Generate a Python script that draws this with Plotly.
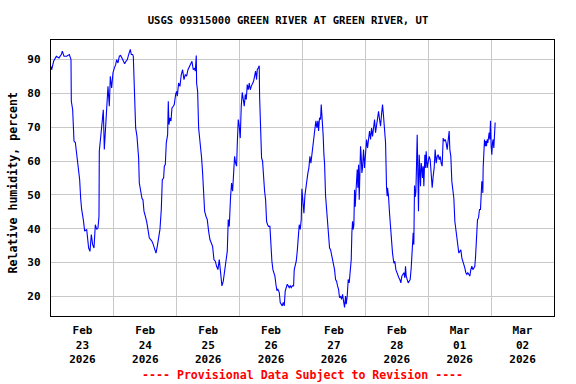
import pandas as pd
import plotly.graph_objects as go

# Hours since 2026-02-23 00:00 (local) and relative humidity (percent)
hours = [
    0.0, 0.25, 1.0, 2.04, 3.05, 3.94, 4.33, 4.96, 5.98, 7.0, 7.63, 7.76, 8.27, 8.78, 9.29, 9.8,
    10.18, 10.56, 10.94, 11.32, 11.7, 12.34, 12.85, 13.61, 14.37, 14.88, 15.39, 15.9, 16.41,
    16.92, 17.43, 17.93, 18.32, 18.44, 18.95, 19.46, 19.97, 20.35, 20.73, 21.24, 21.75, 22.26,
    22.64, 23.15, 23.66, 24.17, 24.68, 25.06, 25.57, 26.08, 26.58, 27.09, 27.6, 28.11, 28.62,
    29.13, 29.64, 30.27, 30.65, 31.16, 31.42, 31.93, 32.31, 32.82, 33.2, 33.45, 33.71, 34.22,
    34.72, 35.11, 35.49, 35.99, 36.5, 37.01, 37.52, 38.03, 38.54, 39.05, 39.56, 40.07, 40.57,
    41.08, 41.59, 42.1, 42.48, 42.99, 43.25, 43.63, 44.01, 44.52, 44.77, 45.03, 45.41, 45.79,
    46.17, 46.68, 47.06, 47.57, 47.95, 48.21, 48.71, 49.22, 49.73, 50.24, 50.75, 51.26, 51.77,
    52.28, 52.78, 53.29, 53.8, 54.31, 54.82, 55.07, 55.46, 55.58, 55.97, 56.35, 56.73, 57.11,
    57.49, 57.87, 58.25, 58.64, 59.15, 59.65, 60.16, 60.67, 61.18, 61.69, 62.2, 62.71, 63.22,
    63.72, 64.23, 64.74, 65.25, 65.76, 66.26, 66.77, 67.28, 67.66, 68.04, 68.55, 68.93, 69.32,
    69.7, 70.08, 70.46, 70.84, 71.1, 71.48, 71.86, 72.24, 72.62, 73.0, 73.39, 73.77, 74.15,
    74.53, 74.91, 75.29, 75.68, 76.06, 76.44, 76.95, 77.33, 77.71, 78.09, 78.47, 78.73, 79.11,
    79.49, 79.62, 80.0, 80.38, 80.76, 81.15, 81.53, 81.91, 82.29, 82.67, 83.05, 83.56, 83.94,
    84.32, 84.71, 85.09, 85.47, 85.85, 86.23, 86.61, 87.12, 87.5, 87.89, 88.27, 88.65, 89.03,
    89.41, 89.79, 90.18, 90.56, 90.94, 91.32, 91.7, 92.08, 92.59, 92.85, 93.23, 93.61, 93.99,
    94.37, 94.75, 95.14, 95.52, 95.77, 96.15, 96.54, 96.92, 97.3, 97.68, 98.06, 98.44, 98.83,
    99.21, 99.59, 99.97, 100.35, 100.73, 101.11, 101.5, 101.88, 102.13, 102.51, 102.89, 103.15,
    103.53, 103.91, 104.17, 104.42, 104.8, 105.18, 105.56, 105.95, 106.33, 106.71, 107.09,
    107.47, 107.85, 108.24, 108.62, 109.0, 109.38, 109.76, 110.14, 110.53, 110.91, 111.29,
    111.67, 112.05, 112.43, 112.69, 113.07, 113.45, 113.83, 114.21, 114.6, 114.85, 115.1,
    115.36, 115.61, 115.87, 116.12, 116.38, 116.63, 116.89, 117.14, 117.39, 117.65, 117.9,
    118.16, 118.41, 118.67, 118.92, 119.3, 119.68, 120.07, 120.45, 120.83, 121.21, 121.59,
    121.97, 122.36, 122.74, 123.12, 123.5, 123.88, 124.26, 124.65, 125.03, 125.41, 125.79,
    126.17, 126.55, 126.93, 127.32, 127.7, 128.08, 128.33, 128.46, 128.84, 129.22, 129.6,
    129.98, 130.36, 130.87, 131.25, 131.64, 132.02, 132.4, 132.78, 133.16, 133.54, 133.93,
    134.31, 134.69, 135.07, 135.32, 135.58, 135.96, 136.34, 136.72, 137.1, 137.49, 137.87,
    138.25, 138.5, 138.76, 139.01, 139.27, 139.52, 139.78, 140.03, 140.28, 140.54, 140.79,
    141.05, 141.3, 141.56, 141.81, 142.07, 142.32, 142.7, 142.96, 143.21, 143.59, 143.97,
    144.35, 144.74, 145.12, 145.5, 145.88, 146.26, 146.64, 147.03, 147.41, 147.79, 148.17,
    148.55, 148.93, 149.31, 149.7, 150.08, 150.46, 150.84, 151.22, 151.6, 151.99, 152.24,
    152.62, 153.0, 153.39, 153.77, 154.15, 154.53, 154.91, 155.29, 155.67, 156.06, 156.44,
    156.82, 157.2, 157.58, 157.96, 158.35, 158.73, 159.11, 159.49, 159.87, 160.25, 160.64,
    161.02, 161.4, 161.78, 162.03, 162.29, 162.54, 162.8, 163.18, 163.56, 163.94, 164.2,
    164.45, 164.71, 164.83, 164.96, 165.21, 165.47, 165.72, 165.98, 166.23, 166.49, 166.74,
    166.99, 167.25, 167.5, 167.76, 168.01, 168.27, 168.52, 168.78, 169.03, 169.29, 169.54,
]
rh = [
    88, 87, 89.5, 91, 90.5, 91.5, 92.5, 91, 91, 91.5, 90, 77.7, 75.2, 65.9, 65.5, 62.4,
    60, 56.5, 54.5, 49, 45.7, 42.7, 39.3, 39.8, 34.3, 33.3, 38.3, 35.3, 34.3,
    41.2, 39.8, 40.2, 43.7, 62.9, 67.3, 69.3, 75.2, 63.4, 67.8, 74.2, 82.1, 76.2,
    85.1, 81.6, 86.1, 87.5, 88.5, 90, 89, 91, 91.2, 90.5, 89.5, 88.8, 89.5,
    90, 91.5, 93, 91.5, 91.5, 91, 78.2, 69.8, 67.3, 63.4, 60.9, 53.5, 50.6,
    49, 48.5, 45.2, 43.7, 42.2, 39.8, 37.3, 36.8, 36.3, 35.3, 34.3, 32.8, 34.8,
    36.8, 39.8, 45.7, 54.5, 55, 58.5, 59, 65.4, 67.8, 77.7, 70.8, 72.8, 71.8,
    75.7, 76.2, 76.7, 79.7, 80.6, 79.2, 83.1, 82.1, 85.6, 87, 84.1, 85.6, 85.1,
    87, 88, 88.5, 89.5, 87, 87.5, 86.6, 91.2, 83.1, 80.6, 69.8, 67.3, 63.4,
    60.9, 56.5, 52.1, 45.2, 43.7, 42.7, 39.3, 36.8, 35.8, 34.8, 30.9, 30.4, 28.9,
    27.9, 30.9, 27, 23.1, 24.5, 27.9, 30.4, 33.3, 42.7, 40.7, 49.5, 53.5, 51.1,
    58, 61.4, 59.4, 58.5, 64.9, 72.3, 70.3, 66.8, 76.2, 80.3, 78.2, 76.2, 79.7,
    78.2, 82.6, 81.1, 83.1, 81.1, 82.1, 83.1, 83.6, 85.1, 86.6, 84.1, 87, 87.5,
    88.2, 79.2, 70.5, 60.9, 60, 53.5, 51.1, 48.6, 42.2, 41.2, 40.7, 40.7, 33.3,
    30.4, 27.9, 27, 26, 23.6, 21.7, 22.1, 21.2, 18.2, 17.7, 17.2, 18.2, 17.2,
    21.6, 22.6, 23.6, 23.1, 22.6, 23.1, 22.6, 23.1, 23.1, 27.9, 29.4, 30.4, 33.3,
    36.3, 41.2, 39.8, 42.7, 51.8, 46.5, 44.6, 49.8, 52.3, 55, 56.5, 58, 61.4,
    59.4, 62.4, 65.4, 66.4, 69.5, 71.9, 69.8, 71.9, 68.9, 72.8, 72.3, 76.7,
    72.8, 67.3, 61.9, 59.4, 49.8, 45.7, 39.8, 36.8, 34.3, 33.8, 32.3,
    31.4, 28.9, 27.9, 25, 24.5, 23.1, 22.1, 19.6, 20.1, 19.1, 20.6,
    18.6, 16.7, 20.1, 17.7, 20.1, 25, 24, 28.9, 30.9, 38.8, 42.2,
    39.8, 41.2, 51.5, 46.5, 50.6, 55, 57.5, 52.1, 58.9, 48.6, 63.4,
    64.4, 61.4, 56.5, 58, 63.4, 58, 63.4, 66.4, 63.9, 67.8, 68.9,
    66.4, 69.8, 67.3, 70.3, 72.3, 68.4, 70.8, 72.8, 74.7, 72.3, 70.3,
    73.8, 76.7, 73.3, 70.3, 65.4, 52.1, 49.6, 52.1, 49.6, 44.6, 40.2,
    37.3, 32.8, 29.8, 30.4, 27.9, 27, 26, 25.5, 25, 24, 26,
    26.5, 27, 25.5, 28.9, 26, 25, 24, 24.5, 25, 28.4, 32.8,
    38.8, 35.3, 52.8, 49.4, 50.9, 58.5, 67.8, 56.5, 45.2, 61.9, 55.5,
    52.6, 59.4, 58, 55, 58.5, 52.6, 61.9, 58, 62.9, 58, 59.4,
    61.4, 60.4, 55.5, 52.1, 55.5, 58, 63.4, 59.4, 61.4, 61.9, 60.4,
    61.4, 59.4, 58.5, 66.8, 65.9, 66.4, 65.4, 63.4, 65.9, 68.9, 63.4,
    61.4, 54, 51.1, 49, 42.2, 40.2, 37.3, 35.3, 32.8, 33.3, 33.8,
    31.4, 30.4, 29.9, 28.4, 27, 26.5, 27, 26.5, 26, 27.9, 28.9,
    27.9, 28.4, 28.9, 31.4, 35.8, 37.7, 42.7, 43.2, 45.7, 45.7, 53.5,
    54, 52.6, 50.6, 58, 61.9, 66.4, 64.4, 65.9, 64.4, 66.4, 65.4,
    66.4, 68.4, 66.4, 71.9, 64.4, 61.9, 65.4, 66.4, 63.9, 67.8, 71.4,
]

start = pd.Timestamp("2026-02-23 00:00")
times = start + pd.to_timedelta(hours, unit="h")

title_text = "USGS 09315000 GREEN RIVER AT GREEN RIVER, UT"
y_title = "Relative humidity, percent"
note_text = "---- Provisional Data Subject to Revision ----"
x_range = ["2026-02-23 00:00", "2026-03-03 00:00"]
y_range = [14.2, 95.8]
y_ticks = [20, 30, 40, 50, 60, 70, 80, 90]

FONT = "DejaVu Sans Mono"

fig = go.Figure()
fig.add_trace(go.Scatter(
    x=times, y=rh, mode="lines",
    line=dict(color="#0000ff", width=1.1),
    hoverinfo="skip", showlegend=False,
))

fig.update_layout(
    width=576, height=384,
    margin=dict(l=51, r=22, t=40, b=68),
    paper_bgcolor="white", plot_bgcolor="white",
    font=dict(family=FONT, size=11, color="black", weight="bold"),
    title=dict(text=title_text, x=0.5, xref="container", xanchor="center",
               y=1 - 20 / 384, yref="container", yanchor="middle",
               font=dict(family=FONT, size=10.6, color="black", weight="bold")),
    showlegend=False,
)

fig.update_xaxes(
    type="date", range=x_range,
    tick0="2026-02-23", dtick=86400000,
    ticklabelmode="period", tickformat="%b<br>%d<br>%Y",
    showgrid=True, gridcolor="#c8c8c8", gridwidth=1,
    ticks="", ticklabelstandoff=4,
    showline=True, linecolor="black", linewidth=1.2, mirror=True,
    zeroline=False,
    tickfont=dict(family=FONT, size=11, color="black", weight="bold"),
)
fig.update_yaxes(
    range=y_range, tickvals=y_ticks,
    showgrid=True, gridcolor="#c8c8c8", gridwidth=1,
    ticks="", ticklabelstandoff=7,
    showline=True, linecolor="black", linewidth=1.2, mirror=True,
    zeroline=False,
    tickfont=dict(family=FONT, size=11, color="black", weight="bold"),
)

fig.add_annotation(
    text=y_title, textangle=-90, xref="paper", yref="paper",
    x=-38 / 503, y=0.484, xanchor="center", yanchor="middle", showarrow=False,
    font=dict(family=FONT, size=11.6, color="black", weight="bold"),
)
fig.add_annotation(
    text=note_text, xref="paper", yref="paper",
    x=0.5, y=(316 - 375) / 276, xanchor="center", yanchor="middle", showarrow=False,
    font=dict(family=FONT, size=11.6, color="red", weight="bold"),
)

fig.write_html("out.html", config={"displayModeBar": False, "staticPlot": True},
               post_script="document.body.style.margin='0';")
